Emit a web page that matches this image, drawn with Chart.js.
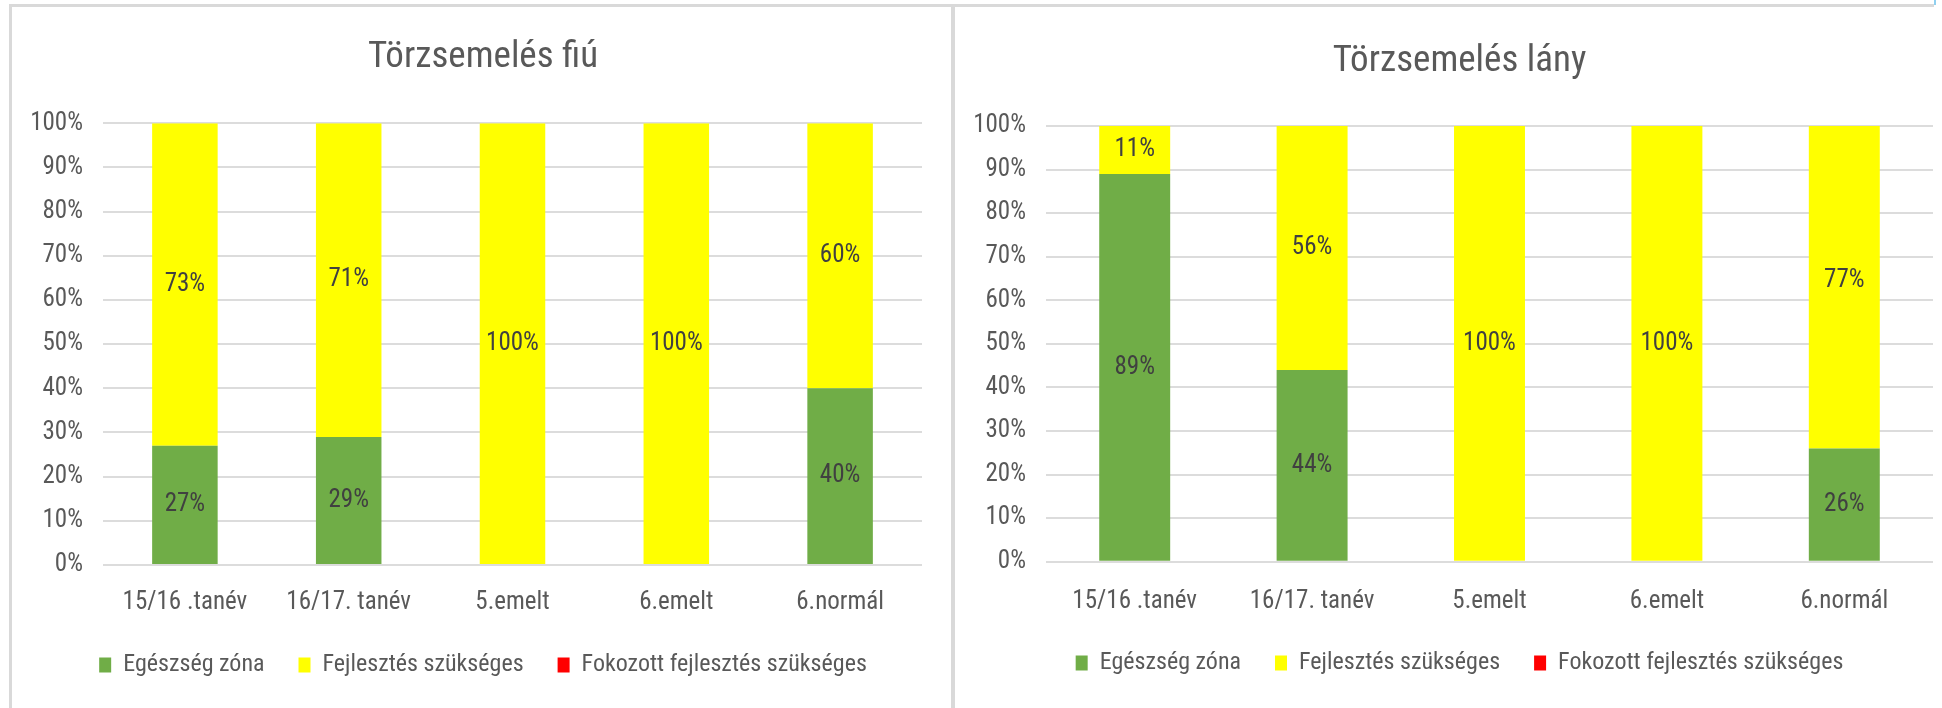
<!DOCTYPE html>
<html>
<head>
<meta charset="utf-8">
<script src="https://cdn.jsdelivr.net/npm/chart.js@4/dist/chart.umd.min.js"></script>
<style>
  html, body { margin: 0; padding: 0; background: #fff; overflow: hidden; }
  body { width: 1942px; height: 708px; position: relative; }
  .line { position: absolute; background: #d9d9d9; }
  .wrap { position: absolute; }
</style>
</head>
<body>
<div class="line" style="left:9px;top:4px;width:1925px;height:3px"></div>
<div class="line" style="left:9px;top:4px;width:3px;height:704px"></div>
<div class="line" style="left:951px;top:4px;width:4px;height:704px"></div>
<div class="line" style="left:1934px;top:0;width:2px;height:5px;background:#8fd0f0"></div>

<div class="wrap" style="left:10px;top:5px;width:942px;height:703px"><canvas id="fiu"></canvas></div>
<div class="wrap" style="left:953px;top:5px;width:1014px;height:703px"><canvas id="lany"></canvas></div>

<script>
const categories = ['15/16 .tanév', '16/17. tanév', '5.emelt', '6.emelt', '6.normál'];
const seriesNames = ['Egészség zóna', 'Fejlesztés szükséges', 'Fokozott fejlesztés szükséges'];
const seriesColors = ['#70ad47', '#ffff00', '#ff0000'];
const yTickLabels = ['0%', '10%', '20%', '30%', '40%', '50%', '60%', '70%', '80%', '90%', '100%'];

// Törzsemelés fiú
const fiuEgeszseg = [27, 29, 0, 0, 40];
const fiuFejlesztes = [73, 71, 100, 100, 60];
const fiuFokozott = [0, 0, 0, 0, 0];

// Törzsemelés lány
const lanyEgeszseg = [89, 44, 0, 0, 26];
const lanyFejlesztes = [11, 56, 100, 100, 77];
const lanyFokozott = [0, 0, 0, 0, 0];

const FONT = "'Roboto Condensed', 'DejaVu Sans Condensed', sans-serif";
const TEXT = '#595959';

// value labels in the middle of each segment
const segmentLabels = {
  id: 'segmentLabels',
  afterDatasetsDraw(chart) {
    const ctx = chart.ctx;
    ctx.save();
    ctx.font = '25px ' + FONT;
    ctx.fillStyle = '#404040';
    ctx.textAlign = 'center';
    ctx.textBaseline = 'middle';
    chart.data.datasets.forEach((ds, i) => {
      const meta = chart.getDatasetMeta(i);
      meta.data.forEach((bar, j) => {
        const v = ds.data[j];
        if (!v) return;
        ctx.fillText(v + '%', bar.x, (bar.y + bar.base) / 2);
      });
    });
    ctx.restore();
  }
};

function makeChart(id, title, green, yellow, red, g) {
  return new Chart(document.getElementById(id), {
    type: 'bar',
    data: {
      labels: categories,
      datasets: [
        { label: seriesNames[0], data: green, backgroundColor: seriesColors[0] },
        { label: seriesNames[1], data: yellow, backgroundColor: seriesColors[1] },
        { label: seriesNames[2], data: red, backgroundColor: seriesColors[2] }
      ]
    },
    options: {
      responsive: true,
      maintainAspectRatio: false,
      animation: false,
      devicePixelRatio: 1,
      datasets: { bar: { categoryPercentage: 1, barPercentage: 0.4, borderWidth: 0 } },
      layout: { padding: { top: 0, left: 10, right: g.right, bottom: g.bottom } },
      plugins: {
        tooltip: { enabled: false },
        title: {
          display: true,
          text: title,
          color: TEXT,
          font: { family: FONT, size: 37, weight: 'normal' },
          padding: { top: g.titleTop, bottom: g.titleBottom }
        },
        legend: {
          position: 'bottom',
          labels: {
            color: TEXT,
            font: { family: FONT, size: 24 },
            boxWidth: 12,
            boxHeight: 15,
            padding: 34
          }
        }
      },
      scales: {
        x: {
          stacked: true,
          afterFit: (scale) => { scale.height = g.xHeight; },
          grid: { display: false, drawTicks: false },
          border: { display: false },
          ticks: { color: TEXT, font: { family: FONT, size: 25 }, padding: g.xPad, maxRotation: 0 }
        },
        y: {
          stacked: true,
          min: 0,
          max: 100,
          afterFit: (scale) => { scale.width = 83; },
          grid: { color: '#dcdcdc', lineWidth: 2, drawTicks: false },
          border: { display: false },
          ticks: {
            stepSize: 10,
            color: TEXT,
            font: { family: FONT, size: 25 },
            padding: 20,
            callback: (v, i) => yTickLabels[i]
          }
        },
        // empty spacer on the right so title and legend sit where the original has them
        spacer: {
          position: 'right',
          afterFit: (scale) => { scale.width = g.spacer; },
          grid: { display: false, drawTicks: false },
          border: { display: false },
          ticks: { display: false }
        }
      }
    },
    plugins: [segmentLabels]
  });
}

makeChart('fiu', 'Törzsemelés fiú', fiuEgeszseg, fiuFejlesztes, fiuFokozott,
  { right: 6, spacer: 24, bottom: 21, titleTop: 30.8, titleBottom: 43.1, xPad: 23, xHeight: 54 });
makeChart('lany', 'Törzsemelés lány', lanyEgeszseg, lanyFejlesztes, lanyFokozott,
  { right: 11, spacer: 23, bottom: 23, titleTop: 34.8, titleBottom: 41.8, xPad: 25.3, xHeight: 55.3 });
</script>
</body>
</html>
